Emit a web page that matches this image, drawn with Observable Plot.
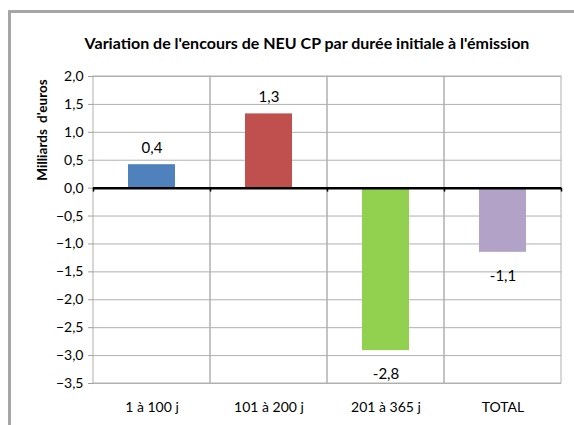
<!DOCTYPE html>
<html>
<head>
<meta charset="utf-8">
<script src="https://cdn.jsdelivr.net/npm/d3@7"></script>
<script src="https://cdn.jsdelivr.net/npm/@observablehq/plot@0.6"></script>
<style>
  html, body { margin: 0; padding: 0; background: #fff; }
  #wrap { position: relative; width: 574px; height: 425px; overflow: hidden; background:#fff; }
  #frame { position: absolute; left: 8px; top: 10px; width: 600px; height: 460px; border-left: 3px solid #a6a6a6; border-top: 3px solid #a6a6a6; box-sizing: border-box; }
  #title { position: absolute; left: 0; width: 614px; top: 33px; text-align: center; font-family: Lato, sans-serif; font-weight: bold; font-size: 16px; color: #000; }
  #ylab { position: absolute; left: 42px; top: 130px; transform: translate(-50%, -50%) rotate(-90deg); font-family: Lato, sans-serif; font-weight: bold; font-size: 13.5px; word-spacing: 3px; white-space: nowrap; }
  #chart { position: absolute; left: 0; top: 60px; }
</style>
</head>
<body>
<div id="wrap">
  <div id="frame"></div>
  <div id="title">Variation de l'encours de NEU CP par durée initiale à l'émission</div>
  <div id="ylab">Milliards d'euros</div>
  <div id="chart"></div>
</div>
<script>
const categories = ["1 à 100 j", "101 à 200 j", "201 à 365 j", "TOTAL"];
const values = [0.42, 1.33, -2.91, -1.15];
const valueLabels = ["0,4", "1,3", "-2,8", "-1,1"];
const barColors = ["#4F81BD", "#C0504D", "#92D050", "#B3A2C7"];
const yTicks = [-3.5, -3.0, -2.5, -2.0, -1.5, -1.0, -0.5, 0.0, 0.5, 1.0, 1.5, 2.0];

const data = categories.map((c, i) => ({cat: c, v: values[i], lab: valueLabels[i], col: barColors[i]}));
const fmt = d => d3.format(".1f")(d).replace(".", ",");
const font = "Lato, sans-serif";

const plot = Plot.plot({
  width: 574,
  height: 365,
  marginLeft: 93,
  marginRight: 13,
  marginTop: 16,
  marginBottom: 42,
  style: {fontFamily: font, fontSize: "14px", color: "#000", background: "transparent"},
  x: {domain: categories, padding: 0, label: null},
  y: {domain: [-3.5, 2.0], label: null},
  marks: [
    Plot.ruleY(yTicks, {stroke: "#b0b0b0", strokeWidth: 1}),
    Plot.barY(categories, {x: d => d, y1: -3.5, y2: 2.0, fill: "none", stroke: "#b0b0b0", strokeWidth: 1, inset: 0}),
    Plot.axisY({ticks: yTicks, tickFormat: fmt, tickSize: 5, tickPadding: 5, stroke: "#a0a0a0", fontSize: 14, label: null}),
    Plot.axisX({tickSize: 0, tickPadding: 19, fontSize: 14, label: null}),
    Plot.barY(data, {x: "cat", y: "v", fill: "col", insetLeft: 35, insetRight: 35}),
    Plot.ruleY([0], {stroke: "#000", strokeWidth: 2.5}),
    Plot.ruleX(categories, {x: d => d, y1: 0, y2: -0.07, stroke: "#000", strokeWidth: 1.5, dx: -58.5}),
    Plot.ruleX(categories.slice(-1), {x: d => d, y1: 0, y2: -0.07, stroke: "#000", strokeWidth: 1.5, dx: 58.5}),
    Plot.text(data.filter(d => d.v >= 0), {x: "cat", y: "v", text: "lab", dy: -17, fontSize: 15}),
    Plot.text(data.filter(d => d.v < 0), {x: "cat", y: "v", text: "lab", dy: 24, fontSize: 15})
  ]
});
document.getElementById("chart").appendChild(plot);
</script>
</body>
</html>
